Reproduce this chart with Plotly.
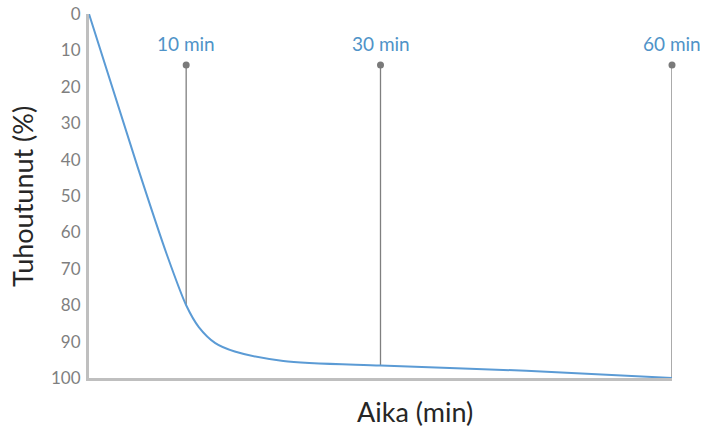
import plotly.graph_objects as go

# Curve data (time in minutes, % destroyed)
time_min = [0, 5, 8, 10, 11.3, 13, 15, 20, 30, 45, 60]
destroyed = [0, 42, 66, 80, 86, 90.4, 92.7, 95.3, 96.6, 98.0, 100]

# Marker lines
mark_x = [10, 30, 60]
mark_top = [14, 14, 14]
mark_bottom = [80, 96.6, 100]
mark_labels = ["10 min", "30 min", "60 min"]
label_y = 8

y_ticks = [0, 10, 20, 30, 40, 50, 60, 70, 80, 90, 100]

x_title = "Aika (min)"
y_title = "Tuhoutunut (%)"

FONT = "Lato"
fig = go.Figure()

line_x, line_y = [], []
for x, t, b in zip(mark_x, mark_top, mark_bottom):
    line_x += [x, x, None]
    line_y += [t, b, None]

fig.add_trace(go.Scatter(x=line_x, y=line_y, mode="lines",
                         line=dict(color="#7f7f7f", width=1.3),
                         hoverinfo="skip", showlegend=False, cliponaxis=False))
fig.add_trace(go.Scatter(x=mark_x, y=mark_top, mode="markers",
                         marker=dict(color="#7a7a7a", size=7),
                         showlegend=False, cliponaxis=False))
fig.add_trace(go.Scatter(x=time_min, y=destroyed, mode="lines",
                         line=dict(color="#5b9bd5", width=2, shape="spline", smoothing=0.8),
                         showlegend=False, cliponaxis=False))

for x, lab in zip(mark_x, mark_labels):
    fig.add_annotation(x=x, y=label_y, text=lab, showarrow=False,
                       font=dict(family=FONT, size=19, color="#4f93c8"))

# Axis titles
fig.add_annotation(xref="paper", yref="paper", x=0.559, y=-0.091,
                   xanchor="center", yanchor="middle", showarrow=False,
                   text=x_title, font=dict(family=FONT, size=27, color="#262626"))
fig.add_annotation(xref="paper", yref="paper", x=-0.115, y=0.5,
                   xanchor="center", yanchor="middle", showarrow=False, textangle=-90,
                   text=y_title, font=dict(family=FONT, size=27, color="#262626"))

fig.update_layout(
    width=704, height=432,
    margin=dict(l=89, r=32, t=14, b=54, autoexpand=False),
    paper_bgcolor="white", plot_bgcolor="white",
    font=dict(family=FONT),
)
fig.update_xaxes(range=[0, 60], showgrid=False, zeroline=False,
                 showticklabels=False, ticks="", automargin=False,
                 showline=True, linecolor="#bfbfbf", linewidth=3)
fig.update_yaxes(range=[100, 0], showgrid=False, zeroline=False,
                 tickvals=y_ticks, ticks="", automargin=False, ticklabelstandoff=2,
                 tickfont=dict(family=FONT, size=17, color="#7f7f7f"),
                 showline=True, linecolor="#bfbfbf", linewidth=3)

fig.write_html("out.html",
               config={"displayModeBar": False},
               post_script="document.body.style.margin='0';document.body.style.overflow='hidden';")
